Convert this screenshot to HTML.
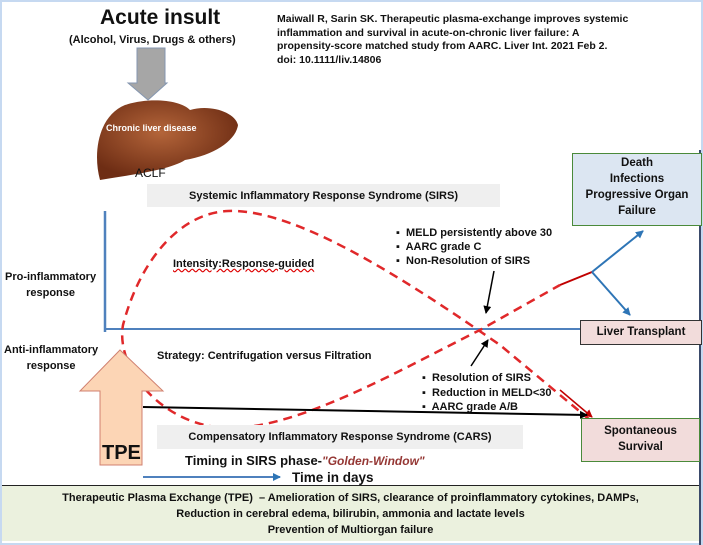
<!DOCTYPE html>
<html><head><style>
body{margin:0;width:703px;height:545px;overflow:hidden;background:#fff;font-family:"Liberation Sans",Arial,sans-serif;}
.t{position:absolute;font-weight:bold;color:#111;white-space:nowrap;}
</style></head><body>
<div style="position:absolute;left:0;top:0;width:699px;height:541px;border:2px solid #c6d9f1;"></div>
<div style="position:absolute;left:699px;top:150px;width:2px;height:395px;background:#3a4a6a;"></div>

<svg width="703" height="545" style="position:absolute;left:0;top:0">
<defs>
<marker id="ak" markerWidth="8" markerHeight="8" refX="7" refY="4" orient="auto" markerUnits="userSpaceOnUse"><path d="M0,0 L8,4 L0,8 z" fill="#000"/></marker>
<marker id="ab" markerWidth="8" markerHeight="8" refX="7" refY="4" orient="auto" markerUnits="userSpaceOnUse"><path d="M0,0 L8,4 L0,8 z" fill="#2e75b6"/></marker>
<marker id="ar" markerWidth="8" markerHeight="8" refX="7" refY="4" orient="auto" markerUnits="userSpaceOnUse"><path d="M0,0 L8,4 L0,8 z" fill="#c00000"/></marker>
<radialGradient id="lg" cx="45%" cy="40%" r="60%"><stop offset="0" stop-color="#b4653a"/><stop offset="1" stop-color="#6e2d14"/></radialGradient>
</defs>
<path d="M137,48 H165 V83 H167 L148,100 L128,83 H137 Z" fill="#a6a6a6" stroke="#8496b0" stroke-width="1"/>
<path d="M100,180 C92,150 100,115 125,105 C150,97 180,100 190,110 C210,104 235,112 238,125 C236,140 215,155 185,160 C170,170 130,175 100,180 Z" fill="url(#lg)"/>
<line x1="105" y1="211" x2="105" y2="332" stroke="#4f81bd" stroke-width="2.5"/>
<line x1="105" y1="329" x2="582" y2="329" stroke="#4f81bd" stroke-width="2"/>
<path d="M590,420 L500,345 C420,290 300,208 228,211 C180,213 140,260 123,325 C115,370 165,428 230,428 C300,428 400,370 480,330 L560,285" fill="none" stroke="#e0282a" stroke-width="2.5" stroke-dasharray="9,6"/>
<line x1="560" y1="285" x2="592" y2="272" stroke="#c00000" stroke-width="2"/>
<line x1="560" y1="390" x2="592" y2="417" stroke="#c00000" stroke-width="1.5" marker-end="url(#ar)"/>
<line x1="592" y1="272" x2="643" y2="231" stroke="#2e75b6" stroke-width="2" marker-end="url(#ab)"/>
<line x1="592" y1="272" x2="630" y2="315" stroke="#2e75b6" stroke-width="2" marker-end="url(#ab)"/>
<line x1="494" y1="271" x2="486" y2="313" stroke="#000" stroke-width="1.5" marker-end="url(#ak)"/>
<line x1="471" y1="366" x2="488" y2="340" stroke="#000" stroke-width="1.5" marker-end="url(#ak)"/>
<line x1="143" y1="407" x2="587" y2="415" stroke="#000" stroke-width="2" marker-end="url(#ak)"/>
<line x1="143" y1="477" x2="280" y2="477" stroke="#4f81bd" stroke-width="2" marker-end="url(#ab)"/>
<path d="M120,350 L163,391 H142 V465 H100 V391 H80 Z" fill="#fcd5b5" stroke="#d08070" stroke-width="1"/>
</svg>

<div class="t" style="left:100px;top:6px;font-size:21px;">Acute insult</div>
<div class="t" style="left:69px;top:34px;font-size:11px;">(Alcohol, Virus, Drugs &amp; others)</div>
<div class="t" style="left:106px;top:123px;font-size:9px;color:#fff;">Chronic liver disease</div>
<div class="t" style="left:135px;top:166px;font-size:12px;font-weight:normal;">ACLF</div>
<div class="t" style="left:277px;top:13px;font-size:10.5px;line-height:13.5px;white-space:normal;width:352px;">Maiwall R, Sarin SK. Therapeutic plasma-exchange improves systemic inflammation and survival in acute-on-chronic liver failure: A propensity-score matched study from AARC. Liver Int. 2021 Feb 2. doi: 10.1111/liv.14806</div>

<div style="position:absolute;left:147px;top:184px;width:353px;height:23px;background:#efefef;"></div>
<div class="t" style="left:147px;top:190px;width:353px;text-align:center;font-size:11px;">Systemic Inflammatory Response Syndrome (SIRS)</div>

<div style="position:absolute;left:572px;top:153px;width:128px;height:71px;background:#dce6f2;border:1px solid #4a8a3a;"></div>
<div class="t" style="left:572px;top:155px;width:130px;text-align:center;font-size:11.5px;line-height:16px;">Death<br>Infections<br>Progressive Organ<br>Failure</div>
<div style="position:absolute;left:580px;top:320px;width:120px;height:23px;background:#f2dcdb;border:1px solid #333;"></div>
<div class="t" style="left:580px;top:326px;width:122px;text-align:center;font-size:11.5px;">Liver Transplant</div>
<div style="position:absolute;left:581px;top:418px;width:117px;height:42px;background:#f2dcdb;border:1px solid #4a8a3a;"></div>
<div class="t" style="left:581px;top:423px;width:119px;text-align:center;font-size:11.5px;line-height:16px;">Spontaneous<br>Survival</div>

<div class="t" style="left:5px;top:269px;font-size:11px;line-height:16px;text-align:center;">Pro-inflammatory<br>response</div>
<div class="t" style="left:4px;top:342px;font-size:11px;line-height:16px;text-align:center;">Anti-inflammatory<br>response</div>
<div class="t" style="left:173px;top:258px;font-size:11px;text-decoration:underline wavy #d00;">Intensity:Response-guided</div>
<div class="t" style="left:157px;top:350px;font-size:11px;">Strategy: Centrifugation versus Filtration</div>

<div class="t" style="left:396px;top:226px;font-size:11px;line-height:14px;">▪&nbsp; MELD persistently above 30<br>▪&nbsp; AARC grade C<br>▪&nbsp; Non-Resolution of SIRS</div>
<div class="t" style="left:422px;top:371px;font-size:11px;line-height:14.5px;">▪&nbsp; Resolution of SIRS<br>▪&nbsp; Reduction in MELD&lt;30<br>▪&nbsp; AARC grade A/B</div>

<div class="t" style="left:102px;top:442px;font-size:20px;">TPE</div>
<div style="position:absolute;left:157px;top:425px;width:366px;height:24px;background:#efefef;"></div>
<div class="t" style="left:157px;top:431px;width:366px;text-align:center;font-size:11px;">Compensatory Inflammatory Response Syndrome (CARS)</div>
<div class="t" style="left:185px;top:453px;font-size:13px;">Timing in SIRS phase-<span style="color:#953734;font-style:italic;font-size:12px;">"Golden-Window"</span></div>
<div class="t" style="left:292px;top:470px;font-size:13.5px;">Time in days</div>

<div style="position:absolute;left:2px;top:485px;width:697px;height:55px;background:#ebf1de;border-top:1px solid #222;"></div>
<div class="t" style="left:2px;top:490px;width:697px;text-align:center;font-size:11px;line-height:16px;">Therapeutic Plasma Exchange (TPE)&nbsp; – Amelioration of SIRS, clearance of proinflammatory cytokines, DAMPs,<br>Reduction in cerebral edema, bilirubin, ammonia and lactate levels<br>Prevention of Multiorgan failure</div>
</body></html>
